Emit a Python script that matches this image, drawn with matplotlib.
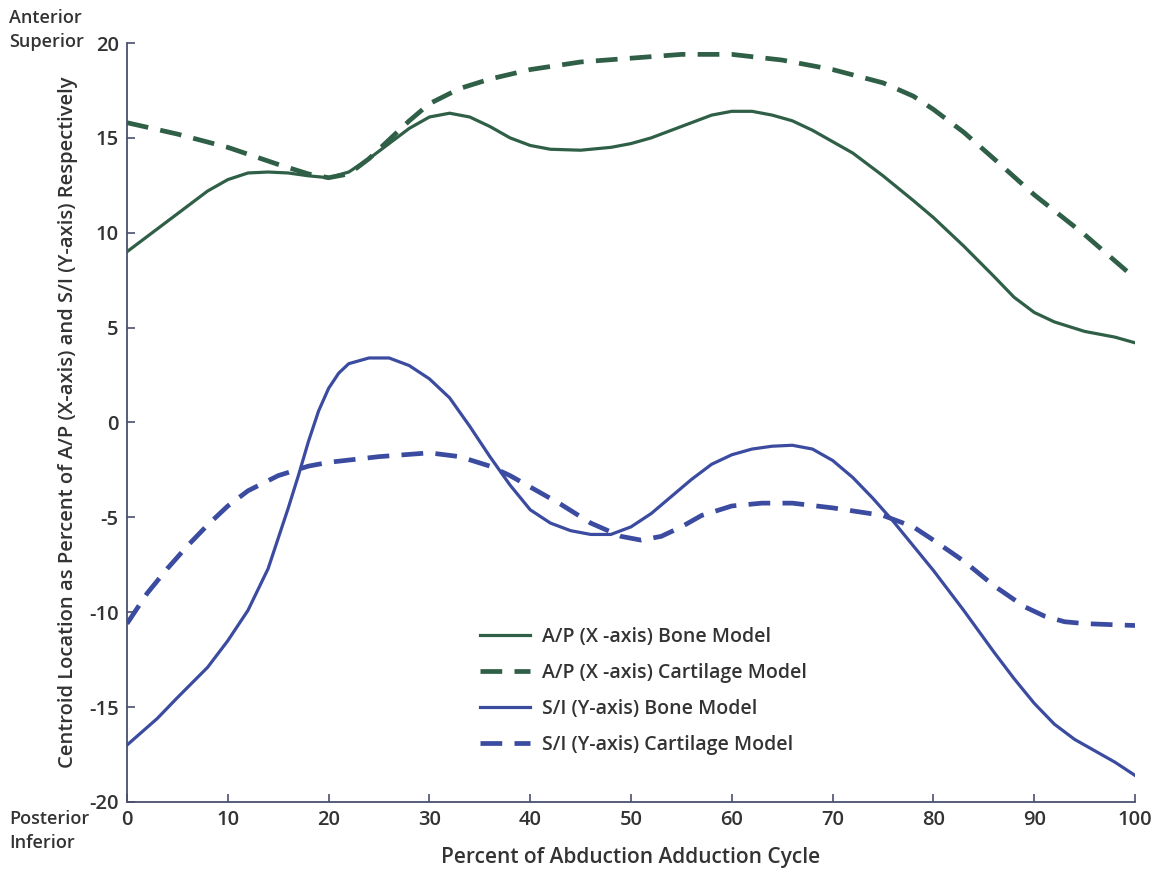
import matplotlib.pyplot as plt

# data
x_ap_bone = [0, 2, 4, 6, 8, 10, 12, 14, 16, 18, 20, 22, 24, 26, 28, 30, 32, 34, 36, 38, 40, 42, 45, 48, 50, 52, 55, 58, 60, 62, 64, 66, 68, 70, 72, 75, 78, 80, 83, 86, 88, 90, 92, 95, 98, 100]
ap_bone = [9.0, 9.8, 10.6, 11.4, 12.2, 12.8, 13.15, 13.2, 13.15, 13.0, 12.9, 13.2, 13.9, 14.7, 15.5, 16.1, 16.3, 16.1, 15.6, 15.0, 14.6, 14.4, 14.35, 14.5, 14.7, 15.0, 15.6, 16.2, 16.4, 16.4, 16.2, 15.9, 15.4, 14.8, 14.2, 13.0, 11.7, 10.8, 9.3, 7.7, 6.6, 5.8, 5.3, 4.8, 4.5, 4.2]

x_ap_cart = [0, 5, 10, 15, 18, 20, 22, 24, 26, 28, 30, 33, 36, 40, 45, 50, 55, 60, 65, 70, 75, 78, 80, 83, 86, 90, 95, 100]
ap_cart = [15.8, 15.2, 14.5, 13.6, 13.1, 12.9, 13.1, 13.9, 14.9, 15.9, 16.8, 17.6, 18.1, 18.6, 19.0, 19.2, 19.4, 19.4, 19.1, 18.6, 17.9, 17.2, 16.5, 15.3, 13.9, 12.0, 9.9, 7.6]

x_si_bone = [0, 3, 5, 8, 10, 12, 14, 16, 17, 18, 19, 20, 21, 22, 24, 26, 28, 30, 32, 34, 36, 38, 40, 42, 44, 46, 48, 50, 52, 54, 56, 58, 60, 62, 64, 66, 68, 70, 72, 74, 76, 78, 80, 83, 86, 88, 90, 92, 94, 96, 98, 100]
si_bone = [-17.0, -15.6, -14.5, -12.9, -11.5, -9.9, -7.7, -4.5, -2.8, -1.0, 0.6, 1.8, 2.6, 3.1, 3.4, 3.4, 3.0, 2.3, 1.3, -0.2, -1.8, -3.3, -4.6, -5.3, -5.7, -5.9, -5.9, -5.5, -4.8, -3.9, -3.0, -2.2, -1.7, -1.4, -1.25, -1.2, -1.4, -2.0, -2.9, -4.0, -5.2, -6.5, -7.8, -9.9, -12.1, -13.5, -14.8, -15.9, -16.7, -17.3, -17.9, -18.6]

x_si_cart = [0, 2, 4, 6, 8, 10, 12, 15, 18, 20, 25, 30, 33, 36, 38, 40, 43, 46, 49, 51, 53, 55, 57, 60, 63, 66, 70, 75, 78, 80, 83, 86, 89, 91, 93, 95, 100]
si_cart = [-10.6, -9.0, -7.7, -6.5, -5.4, -4.4, -3.6, -2.8, -2.3, -2.1, -1.8, -1.6, -1.8, -2.3, -2.8, -3.4, -4.3, -5.3, -6.0, -6.2, -6.0, -5.5, -4.9, -4.4, -4.25, -4.25, -4.5, -4.9, -5.5, -6.2, -7.3, -8.6, -9.7, -10.2, -10.5, -10.6, -10.7]

labels = ['A/P (X -axis) Bone Model', 'A/P (X -axis) Cartilage Model',
          'S/I (Y-axis) Bone Model', 'S/I (Y-axis) Cartilage Model']

green = '#2f5f47'
blue = '#3b4ba0'
text_col = '#333333'
axis_col = '#4a4f6e'

plt.rcParams['font.family'] = ['Open Sans', 'DejaVu Sans']
plt.rcParams['axes.unicode_minus'] = False

fig = plt.figure(figsize=(11.62, 8.74), dpi=100)
ax = fig.add_axes([0.1093, 0.0824, 0.8675, 0.8684])

ax.plot(x_ap_bone, ap_bone, color=green, lw=2.3, label=labels[0])
ax.plot(x_ap_cart, ap_cart, color=green, lw=3.4, dashes=(4.6, 2.6), label=labels[1])
ax.plot(x_si_bone, si_bone, color=blue, lw=2.3, label=labels[2])
ax.plot(x_si_cart, si_cart, color=blue, lw=3.4, dashes=(4.6, 2.6), label=labels[3])

ax.set_xlim(0, 100)
ax.set_ylim(-20, 20)
ax.set_xticks(range(0, 101, 10))
ax.set_yticks(range(-20, 21, 5))

for s in ['top', 'right']:
    ax.spines[s].set_visible(False)
for s in ['left', 'bottom']:
    ax.spines[s].set_color(axis_col)
    ax.spines[s].set_linewidth(1.3)

ax.tick_params(direction='in', length=6, width=1.2, color=axis_col,
               labelsize=14.5, labelcolor=text_col, pad=6)
for lab in ax.get_xticklabels() + ax.get_yticklabels():
    lab.set_fontweight('semibold')

ax.set_xlabel('Percent of Abduction Adduction Cycle', fontsize=15,
              color=text_col, fontweight='semibold', labelpad=12)
ax.set_ylabel('Centroid Location as Percent of A/P (X-axis) and S/I (Y-axis) Respectively',
              fontsize=14.5, color=text_col, fontweight='semibold', labelpad=8)

fig.text(0.008, 0.966, 'Anterior\nSuperior', fontsize=13, color=text_col,
         fontweight='semibold', ha='left', va='center', linespacing=1.4)
fig.text(0.008, 0.049, 'Posterior\nInferior', fontsize=13, color=text_col,
         fontweight='semibold', ha='left', va='center', linespacing=1.4)

ax.legend(loc='lower left', bbox_to_anchor=(0.35, 0.062), frameon=False,
          borderpad=0, borderaxespad=0,
          handlelength=2.6, labelspacing=0.82, handletextpad=0.6,
          labelcolor=text_col, prop={'weight': 'semibold', 'size': 14})

fig.savefig('out.png', dpi=100)
